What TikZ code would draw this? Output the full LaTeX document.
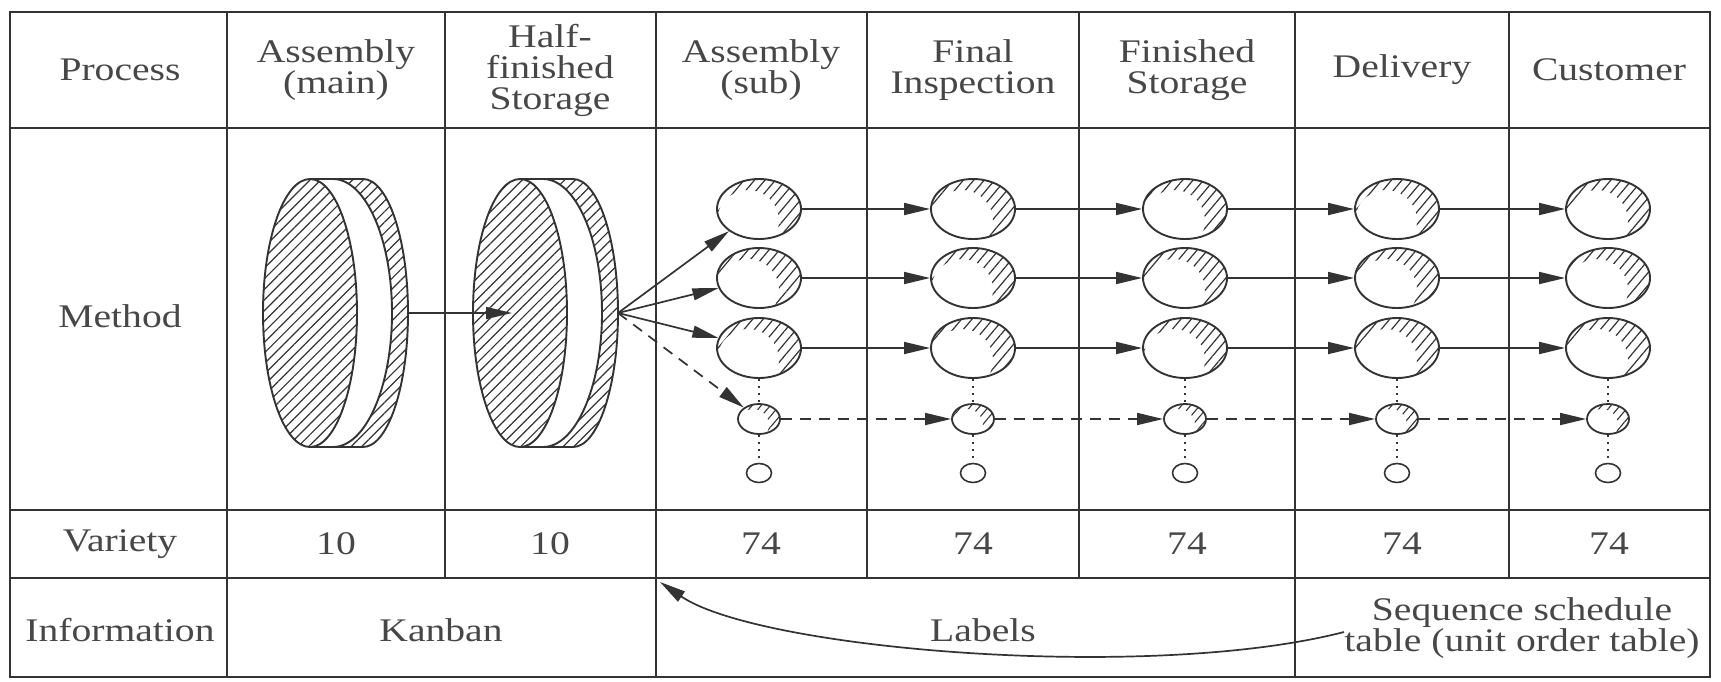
\documentclass[tikz,border=0pt]{standalone}
\usepackage{fontspec}
\setmainfont{Liberation Serif}[FakeStretch=1.2]
\usetikzlibrary{shapes.geometric,arrows.meta,patterns.meta}
\definecolor{ink}{HTML}{333333}
\begin{document}
\begin{tikzpicture}[x=1pt,y=-1pt,
  tbl/.style={draw=ink, line width=2.3pt},
  txt/.style={font=\fontsize{33}{31}\selectfont, text=ink!90, align=center, inner sep=0pt},
  hatch/.style={pattern={Lines[angle=45,distance=7.5pt,line width=1.2pt]}, pattern color=ink},
  bigc/.style={ellipse, draw=ink, line width=1.9pt, minimum width=84pt, minimum height=60pt, inner sep=0pt,
    path picture={\fill[pattern={Lines[angle=50,distance=8pt,line width=1.2pt]}, pattern color=ink, even odd rule]
      (path picture bounding box.south west) rectangle (path picture bounding box.north east)
      ([shift={(-11,12)}]path picture bounding box.center) circle[radius=31];}},
  smallc/.style={ellipse, draw=ink, line width=1.8pt, minimum width=42pt, minimum height=30pt, inner sep=0pt,
    path picture={\fill[pattern={Lines[angle=50,distance=7pt,line width=1.1pt]}, pattern color=ink, even odd rule]
      (path picture bounding box.south west) rectangle (path picture bounding box.north east)
      ([shift={(-6,6)}]path picture bounding box.center) circle[radius=16];}},
  tinyc/.style={ellipse, draw=ink, line width=1.6pt, minimum width=25pt, minimum height=19pt, inner sep=0pt},
  arr/.style={draw=ink, line width=1.7pt, -{Triangle[length=26pt,width=12pt]}},
  darr/.style={arr, dash pattern=on 11pt off 8pt},
  dot/.style={draw=ink, line width=2pt, dash pattern=on 2.5pt off 4.5pt},
]
\useasboundingbox (0,0) rectangle (1721,681);

% ---- table grid ----
\draw[tbl] (10,12) rectangle (1710,677);
\draw[tbl] (10,128) -- (1710,128);
\draw[tbl] (10,510) -- (1710,510);
\draw[tbl] (10,578) -- (1710,578);
\foreach \x in {227,656,1295} \draw[tbl] (\x,12) -- (\x,677);
\foreach \x in {445,867,1079,1509} \draw[tbl] (\x,12) -- (\x,578);

% ---- header ----
\node[txt] (hProc) at (120,70) {Process};
\node[txt] (hAsm)  at (336,70) {Assembly\\(main)};
\node[txt] (hHalf) at (550,70) {Half-\\finished\\Storage};
\node[txt] (hSub)  at (761,70) {Assembly\\(sub)};
\node[txt] (hFin)  at (973,70) {Final\\Inspection};
\node[txt] (hStor) at (1187,70) {Finished\\Storage};
\node[txt] (hDel)  at (1402,70) {Delivery};
\node[txt] (hCus)  at (1609,70) {Customer};

\node[txt] (lMeth) at (120,316) {Method};
\node[txt] (lVar)  at (120,544) {Variety};
\node[txt] (v1) at (336,544) {10};
\node[txt] (v2) at (550,544) {10};
\node[txt] (v3) at (761,544) {74};
\node[txt] (v4) at (973,544) {74};
\node[txt] (v5) at (1187,544) {74};
\node[txt] (v6) at (1402,544) {74};
\node[txt] (v7) at (1609,544) {74};
\node[txt] (lInf) at (120,630) {Information};
\node[txt] (kan)  at (441,630) {Kanban};
\node[txt] (lab)  at (983,630) {Labels};
\node[txt] (seq)  at (1522,628) {Sequence schedule\\table (unit order table)};

% ---- discs ----
\foreach \cx in {310,520} {
\begin{scope}[shift={(\cx,313)}]
  \fill[hatch] (23,-134) -- (53,-134) arc[start angle=-90,end angle=90,x radius=45,y radius=134]
     -- (23,134) arc[start angle=90,end angle=-90,x radius=59,y radius=134] -- cycle;
  \draw[ink, line width=1.9pt] (23,-134) arc[start angle=-90,end angle=90,x radius=59,y radius=134];
  \draw[ink, line width=1.9pt] (0,-134) -- (53,-134) arc[start angle=-90,end angle=90,x radius=45,y radius=134] -- (0,134);
  \fill[white] (0,0) ellipse[x radius=47,y radius=134];
  \fill[hatch] (0,0) ellipse[x radius=47,y radius=134];
  \draw[ink, line width=1.9pt] (0,0) ellipse[x radius=47,y radius=134];
\end{scope}
}
\coordinate (d1out) at (408,313);
\coordinate (d2in)  at (512,313);
\coordinate (d2out) at (618,313);
\draw[arr] (d1out) -- (d2in);

% ---- circles ----
\foreach \x [count=\i] in {759,973,1185,1397,1608} {
  \node[bigc]   (a\i) at (\x,209) {};
  \node[bigc]   (b\i) at (\x,278) {};
  \node[bigc]   (c\i) at (\x,348) {};
  \node[smallc] (s\i) at (\x,419) {};
  \node[tinyc]  (t\i) at (\x,473) {};
}
\foreach \i in {1,...,5} {
  \draw[dot] (c\i) -- (s\i);
  \draw[dot] (s\i) -- (t\i);
}
\foreach \i/\j in {1/2,2/3,3/4,4/5} {
  \draw[arr] (a\i) -- (a\j);
  \draw[arr] (b\i) -- (b\j);
  \draw[arr] (c\i) -- (c\j);
  \draw[darr] (s\i) -- (s\j);
}
\draw[arr] (d2out) -- (a1);
\draw[arr] (d2out) -- (b1);
\draw[arr] (d2out) -- (c1);
\draw[darr] (d2out) -- (s1);

% ---- information arrow ----
\coordinate (seqL) at (1344,632);
\coordinate (corner) at (660,582);
\draw[arr] (seqL) .. controls (1150,682) and (760,650) .. (corner);
\end{tikzpicture}
\end{document}
